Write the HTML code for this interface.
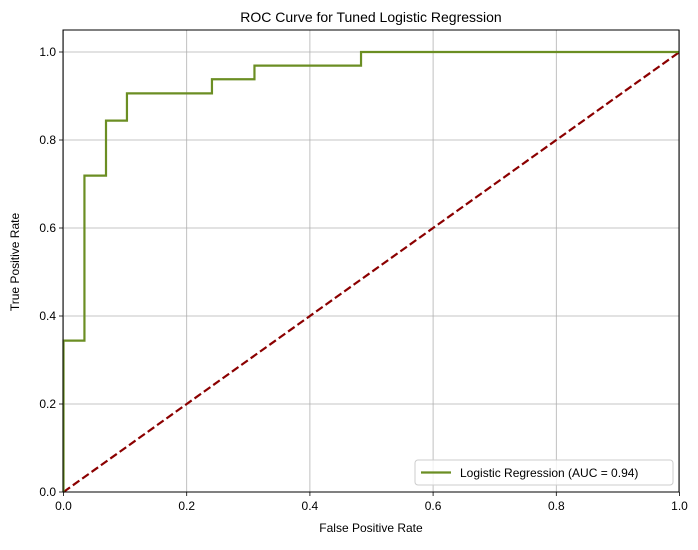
<!DOCTYPE html>
<html><head><meta charset="utf-8"><style>
body{margin:0;background:#fff;}
svg text{font-family:"Liberation Sans",Arial,sans-serif;}
</style></head><body>
<svg width="698" height="545" xmlns="http://www.w3.org/2000/svg">
<g id="grid"></g>
<g id="series"></g>
<g id="axes"></g>
<text x="371" y="22" text-anchor="middle" font-size="14">ROC Curve for Tuned Logistic Regression</text>
<text x="371" y="532" text-anchor="middle" font-size="12">False Positive Rate</text>
<text x="19" y="262" text-anchor="middle" font-size="12" transform="rotate(-90 19 262)">True Positive Rate</text>
<g>
<rect x="415" y="460" width="258" height="25" rx="3" fill="#fff" fill-opacity="0.8" stroke="#ccc"/>
<line x1="421" y1="472.5" x2="451" y2="472.5" stroke="#6b8e23" stroke-width="2.2"/>
<text x="460" y="477" font-size="12">Logistic Regression (AUC = 0.94)</text>
</g>
</svg>
<script>
const fprValues=[0,0,0.034,0.034,0.069,0.069,0.103,0.103,0.241,0.241,0.310,0.310,0.483,0.483,1];
const tprValues=[0,0.344,0.344,0.719,0.719,0.844,0.844,0.906,0.906,0.938,0.938,0.969,0.969,1,1];
const xTicks=[0,0.2,0.4,0.6,0.8,1.0];
const xTickLabels=["0.0","0.2","0.4","0.6","0.8","1.0"];
const yTicks=[0,0.2,0.4,0.6,0.8,1.0];
const yTickLabels=["0.0","0.2","0.4","0.6","0.8","1.0"];
const X0=63.5,XS=616,Y0=492,YS=440;
const L=63,R=679,T=30,B=492;
const x=v=>X0+v*XS, y=v=>Y0-v*YS;
const NS="http://www.w3.org/2000/svg";
function mk(tag,parent,attrs){const e=document.createElementNS(NS,tag);for(const k in attrs)e.setAttribute(k,attrs[k]);parent.appendChild(e);return e;}
const grid=document.getElementById('grid'),axes=document.getElementById('axes'),series=document.getElementById('series');
xTicks.forEach((t,i)=>{
 const g=mk('line',grid,{x1:x(t),x2:x(t),y1:T,y2:B,stroke:'#b0b0b0','stroke-width':0.8});
 
 const tk=mk('line',axes,{x1:x(t),x2:x(t),y1:B,y2:B+4,stroke:'#000','stroke-width':0.8});
 
 const tx=mk('text',axes,{x:x(t),y:B+18,'text-anchor':'middle','font-size':12});tx.textContent=xTickLabels[i];
 
});
yTicks.forEach((t,i)=>{
 const g=mk('line',grid,{x1:L,x2:R,y1:y(t),y2:y(t),stroke:'#b0b0b0','stroke-width':0.8});
 
 const tk=mk('line',axes,{x1:L-4,x2:L,y1:y(t),y2:y(t),stroke:'#000','stroke-width':0.8});
 
 const tx=mk('text',axes,{x:L-7,y:y(t)+4,'text-anchor':'end','font-size':12});tx.textContent=yTickLabels[i];
 
});
const diag=mk('line',series,{x1:x(0),y1:y(0),x2:x(1),y2:y(1),stroke:'#8b0000','stroke-width':2.2,'stroke-dasharray':'8,3.5'});

const pts=fprValues.map((f,i)=>x(f)+','+y(tprValues[i])).join(' ');
const roc=mk('polyline',series,{points:pts,fill:'none',stroke:'#6b8e23','stroke-width':2.2});

const fr=mk('rect',axes,{x:L,y:T,width:R-L,height:B-T,fill:'none',stroke:'#000','stroke-width':1});

</script>
</body></html>
